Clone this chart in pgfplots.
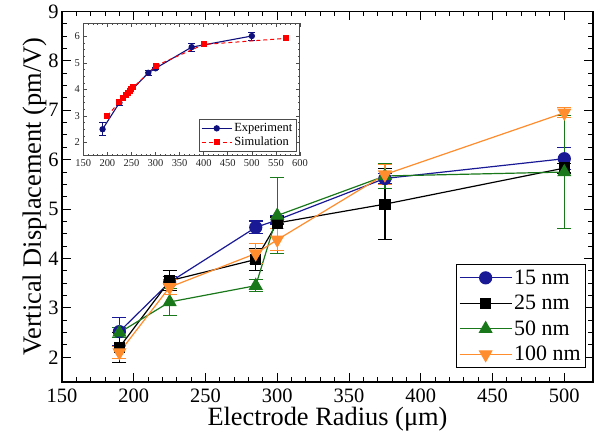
\documentclass[border=0pt]{standalone}
\usepackage{pgfplots}
\pgfplotsset{compat=1.18}
\usepackage{fontspec}
\setmainfont{Liberation Serif}

\definecolor{c15}{RGB}{25,25,150}
\definecolor{c50}{RGB}{25,120,25}
\definecolor{c100}{RGB}{255,140,45}
\definecolor{cexp}{RGB}{15,15,125}

\begin{document}
\begin{tikzpicture}
\path[use as bounding box] (-62bp,-64bp) rectangle (532bp,382bp);

% main plot
\begin{axis}[
    scale only axis,
    width=531bp, height=370.5bp,
    xmin=150, xmax=520,
    ymin=1.5, ymax=9,
    xtick={150,200,...,500},
    ytick={2,3,...,9},
    minor x tick num=4,
    minor y tick num=3,
    tick align=inside,
    major tick length=9bp,
    minor tick length=5bp,
    axis line style={line width=1.4bp},
    every tick/.style={line width=1bp, black},
    tick label style={font=\fontsize{20.5}{20.5}\selectfont},
    xticklabel style={yshift=-3bp},
    /pgf/number format/assume math mode=true,
    label style={font=\fontsize{26.5}{26.5}\selectfont},
    xlabel={Electrode Radius (μm)},
    ylabel={Vertical Displacement (pm/V)},
    xlabel style={yshift=2bp},
    ylabel style={yshift=-5bp},
    legend cell align=left,
    legend style={at={(0.987,0.038)}, anchor=south east,
        font=\fontsize{22}{22}\selectfont, draw=black, line width=1bp,
        row sep=5.5bp, inner sep=3bp},
    legend image code/.code={
        \draw[mark repeat=2,mark phase=2,#1] plot coordinates {(0bp,0bp) (26bp,0bp) (52bp,0bp)};},
    every axis plot/.append style={line width=1.2bp},
    error bars/error bar style={line width=1.2bp},
    error bars/error mark options={rotate=90, mark size=7bp, line width=1.2bp},
]

% 15 nm
\addplot[color=c15, mark=*, mark size=6bp,
    error bars/.cd, y dir=both, y explicit]
coordinates {
    (190,2.52) +- (0,0.28)
    (225,3.52) +- (0,0.12)
    (285,4.63) +- (0,0.13)
    (300,4.78) +- (0,0.08)
    (375,5.62) +- (0,0.10)
    (500,6.02) +- (0,0.22)
};
\addlegendentry{15 nm}

% 25 nm
\addplot[color=black, mark=square*, mark size=5bp,
    error bars/.cd, y dir=both, y explicit]
coordinates {
    (190,2.20) +- (0,0.30)
    (225,3.55) +- (0,0.20)
    (285,3.98) +- (0,0.22)
    (300,4.72) +- (0,0.12)
    (375,5.10) +- (0,0.72)
    (500,5.83) +- (0,0.10)
};
\addlegendentry{25 nm}

% 50 nm
\addplot[color=c50, mark=triangle*, mark size=7bp,
    error bars/.cd, y dir=both, y explicit]
coordinates {
    (190,2.50) +- (0,0.10)
    (225,3.12) +- (0,0.28)
    (285,3.45) +- (0,0.12)
    (300,4.87) +- (0,0.77)
    (375,5.67) +- (0,0.25)
    (500,5.75) +- (0,1.15)
};
\addlegendentry{50 nm}

% 100 nm
\addplot[color=c100, mark=triangle*, mark size=7bp, mark options={rotate=180},
    error bars/.cd, y dir=both, y explicit]
coordinates {
    (190,2.10) +- (0,0.12)
    (225,3.42) +- (0,0.15)
    (285,4.10) +- (0,0.20)
    (300,4.38) +- (0,0.22)
    (375,5.70) +- (0,0.20)
    (500,6.95) +- (0,0.10)
};
\addlegendentry{100 nm}
\end{axis}

% inset
\begin{axis}[
    at={(21.3bp,226.3bp)}, anchor=south west,
    scale only axis,
    width=216.7bp, height=132.4bp,
    axis background/.style={fill=white},
    xmin=150, xmax=600,
    ymin=1.5, ymax=6.5,
    xtick={150,200,...,600},
    ytick={2,3,...,6},
    minor x tick num=4,
    minor y tick num=3,
    tick align=inside,
    major tick length=4bp,
    minor tick length=2bp,
    axis line style={line width=1bp, black!70},
    every tick/.style={line width=0.6bp, black!70},
    tick label style={font=\fontsize{10.5}{10.5}\selectfont, black!85},
    /pgf/number format/assume math mode=true,
    legend cell align=left,
    legend style={at={(0.985,0.03)}, anchor=south east,
        font=\fontsize{12.5}{12.5}\selectfont, draw=black!70, line width=0.8bp,
        row sep=0bp, inner sep=2bp},
    legend image code/.code={
        \draw[mark repeat=2,mark phase=2,#1] plot coordinates {(0bp,0bp) (15bp,0bp) (30bp,0bp)};},
    error bars/error bar style={line width=0.8bp},
    error bars/error mark options={rotate=90, mark size=3.5bp, line width=0.8bp},
]
\addplot[color=cexp, line width=1.1bp, mark=*, mark size=2.6bp,
    error bars/.cd, y dir=both, y explicit]
coordinates {
    (190,2.50) +- (0,0.25)
    (225,3.50) +- (0,0.10)
    (285,4.63) +- (0,0.08)
    (300,4.80) +- (0,0.05)
    (375,5.60) +- (0,0.15)
    (500,6.02) +- (0,0.15)
};
\addlegendentry{Experiment}

\addplot[color=red, line width=1bp, dash pattern=on 4bp off 3bp,
    mark=square*, mark size=2.5bp, mark options={solid}]
coordinates {
    (200,3.00) (225,3.54) (233,3.68) (238,3.78) (242,3.87) (246,3.95)
    (250,4.02) (254,4.08) (300,4.89) (400,5.70) (570,5.93)
};
\addlegendentry{Simulation}
\end{axis}
\end{tikzpicture}
\end{document}
